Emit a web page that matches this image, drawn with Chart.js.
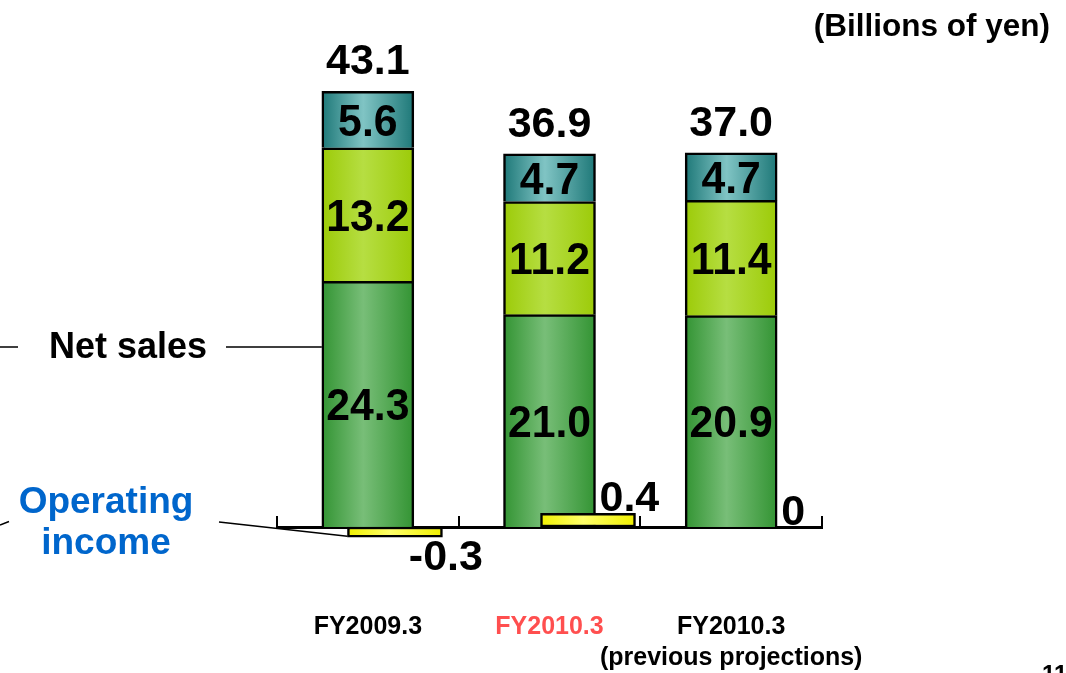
<!DOCTYPE html>
<html>
<head>
<meta charset="utf-8">
<script src="https://cdn.jsdelivr.net/npm/chart.js@4.4.1/dist/chart.umd.min.js"></script>
<style>
  html, body { margin: 0; padding: 0; background: #ffffff; }
  #wrap { position: relative; width: 1066px; height: 673px; }
</style>
</head>
<body>
<div id="wrap"><canvas id="chart" width="1066" height="673"></canvas></div>
<script>
// Net sales broken into three segments (billions of yen), plus operating income
const categories = [['FY2009.3'], ['FY2010.3'], ['FY2010.3', '(previous projections)']];
const categoryColors = ['#000000', '#FF4F4F', '#000000'];
const salesBase = [24.3, 21.0, 20.9];
const salesMiddle = [13.2, 11.2, 11.4];
const salesTop = [5.6, 4.7, 4.7];
const operatingIncome = [-0.3, 0.4, 0];

const FONT = '"Liberation Sans", Arial, Helvetica, sans-serif';
Chart.defaults.font.family = FONT;

// Horizontal "cylinder" shading: dark edges, light middle
function barFill(scaleId, half, edge, mid) {
  return (ctx) => {
    if (ctx.type !== 'data') return edge;
    const scale = ctx.chart.scales[scaleId];
    if (!scale) return edge;
    const cx = scale.getPixelForValue(ctx.dataIndex);
    if (!Number.isFinite(cx)) return edge;
    const g = ctx.chart.ctx.createLinearGradient(cx - half, 0, cx + half, 0);
    g.addColorStop(0, edge);
    g.addColorStop(0.45, mid);
    g.addColorStop(1, edge);
    return g;
  };
}

const fmt = (v) => (v === 0 ? '0' : v.toFixed(1));

const chartText = {
  id: 'chartText',
  afterDraw(chart) {
    const ctx = chart.ctx;
    const salesIdx = [1, 2, 3];
    ctx.save();
    ctx.fillStyle = '#000000';
    ctx.textAlign = 'center';
    ctx.textBaseline = 'alphabetic';

    // values inside each segment
    salesIdx.forEach((di) => {
      const meta = chart.getDatasetMeta(di);
      const values = chart.data.datasets[di].data;
      meta.data.forEach((bar, i) => {
        const cy = (bar.y + bar.base) / 2;
        ctx.save();
        ctx.translate(bar.x, cy + 0.355 * 45);
        ctx.scale(0.95, 1);
        ctx.font = 'bold 45px ' + FONT;
        ctx.fillText(values[i].toFixed(1), 0, 0);
        ctx.restore();
      });
    });

    // totals above each stack
    const topMeta = chart.getDatasetMeta(3);
    ctx.font = 'bold 43px ' + FONT;
    topMeta.data.forEach((bar, i) => {
      const total = salesBase[i] + salesMiddle[i] + salesTop[i];
      ctx.fillText(total.toFixed(1), bar.x, bar.y - 17);
    });

    // operating income values, next to the net sales bar
    const opMeta = chart.getDatasetMeta(0);
    const baseMeta = chart.getDatasetMeta(1);
    ctx.textAlign = 'left';
    opMeta.data.forEach((bar, i) => {
      const v = operatingIncome[i];
      const salesBar = baseMeta.data[i];
      const x = salesBar.x + salesBar.width / 2 + 1;
      if (v < 0) {
        ctx.fillText(fmt(v), x - 6, Math.max(bar.y, bar.base) + 33);
      } else {
        ctx.fillText(fmt(v), x + 3, Math.min(bar.y, bar.base) - 2);
      }
    });

    // unit note
    ctx.textAlign = 'right';
    ctx.font = 'bold 31.5px ' + FONT;
    ctx.fillText('(Billions of yen)', 1050, 36);

    // page number
    ctx.textAlign = 'left';
    ctx.font = 'bold 24px ' + FONT;
    ctx.fillText('11', 1042, 682);

    // "Net sales" callout
    const firstSales = baseMeta.data[0];
    ctx.textAlign = 'center';
    ctx.font = 'bold 36px ' + FONT;
    ctx.fillText('Net sales', 128, 358);
    ctx.strokeStyle = '#000000';
    ctx.lineWidth = 1.5;
    ctx.beginPath();
    ctx.moveTo(0, 347); ctx.lineTo(18, 347);
    ctx.moveTo(226, 347); ctx.lineTo(firstSales.x - firstSales.width / 2, 347);
    ctx.stroke();

    // "Operating income" callout
    const firstOp = opMeta.data[0];
    ctx.fillStyle = '#0066CC';
    ctx.font = 'bold 37px ' + FONT;
    ctx.fillText('Operating', 106, 513);
    ctx.fillText('income', 106, 554);
    ctx.beginPath();
    ctx.moveTo(0, 525); ctx.lineTo(9, 521.5);
    ctx.moveTo(219, 522);
    ctx.lineTo(firstOp.x - firstOp.width / 2, Math.max(firstOp.y, firstOp.base) - 1);
    ctx.stroke();

    ctx.restore();
  }
};

new Chart(document.getElementById('chart'), {
  type: 'bar',
  data: {
    labels: categories,
    datasets: [
      {
        label: 'Operating income',
        data: operatingIncome.map((v, i) => ({ x: i, y: v })),
        xAxisID: 'x2',
        yAxisID: 'y2',
        order: -1,
        grouped: false,
        barThickness: 95,
        backgroundColor: barFill('x2', 47.5, '#F0F000', '#FFFF6A'),
        borderColor: '#000000',
        borderWidth: 2.5,
        borderSkipped: false,
        clip: false
      },
      {
        label: 'Net sales (lower)',
        data: salesBase,
        xAxisID: 'x',
        yAxisID: 'y',
        stack: 'sales',
        grouped: false,
        barThickness: 92,
        backgroundColor: barFill('x', 46, '#339433', '#78BE78'),
        borderColor: '#000000',
        borderWidth: 2.5,
        borderSkipped: 'start'
      },
      {
        label: 'Net sales (middle)',
        data: salesMiddle,
        xAxisID: 'x',
        yAxisID: 'y',
        stack: 'sales',
        grouped: false,
        barThickness: 92,
        backgroundColor: barFill('x', 46, '#9CCB08', '#B6DE42'),
        borderColor: '#000000',
        borderWidth: 2.5,
        borderSkipped: 'start'
      },
      {
        label: 'Net sales (upper)',
        data: salesTop,
        xAxisID: 'x',
        yAxisID: 'y',
        stack: 'sales',
        grouped: false,
        barThickness: 92,
        backgroundColor: barFill('x', 46, '#1E7878', '#80C4C4'),
        borderColor: '#000000',
        borderWidth: 2.5,
        borderSkipped: 'start'
      }
    ]
  },
  options: {
    responsive: false,
    animation: false,
    events: [],
    layout: { padding: { left: 277, right: 244, top: 40, bottom: 0 } },
    plugins: {
      legend: { display: false },
      tooltip: { enabled: false },
      title: { display: false }
    },
    scales: {
      x: {
        type: 'category',
        stacked: true,
        offset: true,
        position: 'bottom',
        z: 1,
        grid: {
          display: true,
          drawOnChartArea: false,
          drawTicks: true,
          tickLength: -11,
          offset: true,
          color: '#000000',
          lineWidth: 2
        },
        border: { display: true, color: '#000000', width: 3 },
        ticks: {
          color: (c) => categoryColors[c.index],
          font: { family: FONT, size: 25, weight: 'bold', lineHeight: 1.24 },
          padding: 96,
          autoSkip: false,
          maxRotation: 0,
          minRotation: 0
        },
        afterFit: (scale) => { scale.height = 146; }
      },
      x2: {
        type: 'linear',
        display: false,
        offset: false,
        grid: { offset: false },
        min: -0.611,
        max: 2.212
      },
      y: { stacked: true, display: false, min: 0, max: 48.17 },
      y2: { display: false, min: 0, max: 14.32 }
    }
  },
  plugins: [chartText]
});
</script>
</body>
</html>
